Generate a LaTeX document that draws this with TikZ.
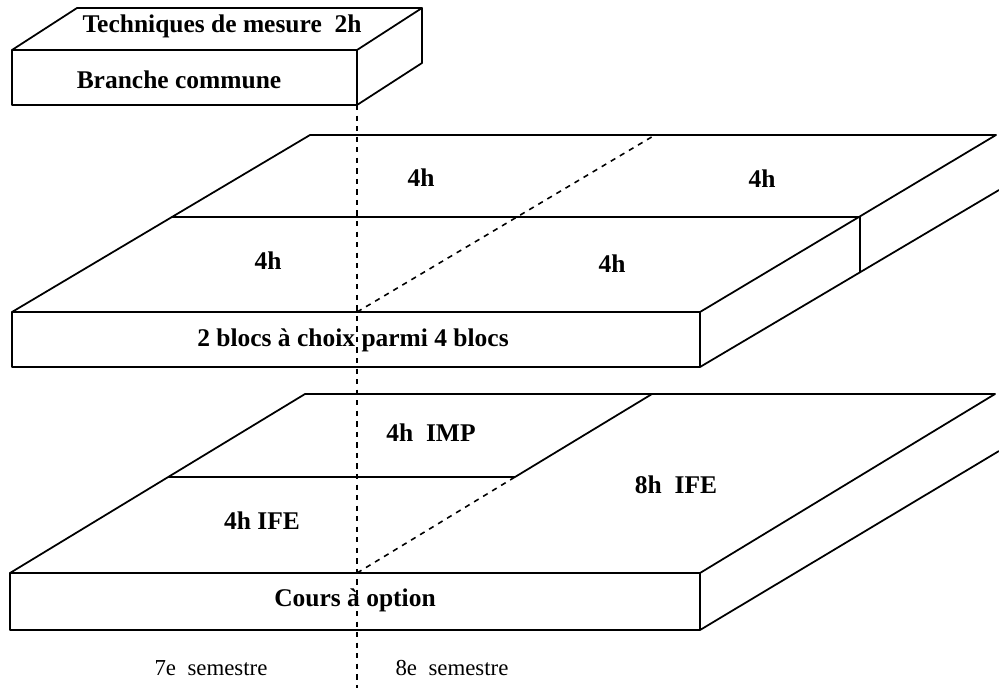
\documentclass[tikz,border=0pt]{standalone}
\usepackage{fontspec}
\setmainfont{Liberation Serif}
\usepackage{tikz}

\begin{document}
\begin{tikzpicture}[
            x=0.02cm, y=-0.02cm,
            edge/.style={line width=1pt, line join=round},
            hidden/.style={dashed, line width=0.9pt},
            label/.style={font=\fontsize{14.5}{17}\selectfont\bfseries, inner sep=0pt},
            sem/.style={font=\fontsize{13}{15}\selectfont, inner sep=0pt}
        ]
            \useasboundingbox (0,0) rectangle (999,693);

            % Top box
            \draw[edge] (12,50) rectangle (357,105);
            \draw[edge] (12,50) -- (77,8) -- (422,8) -- (357,50);
            \draw[edge] (422,8) -- (422,63) -- (357,105);
            \node[label] (tech) at (222,26) {Techniques de mesure\ \ 2h};
            \node[label] (branche) at (179,80) {Branche commune};

            % Middle slab
            \draw[edge] (12,312) rectangle (700,367);
            \draw[edge] (12,312) -- (310,135) -- (996,135) -- (700,312);
            \draw[edge] (700,367) -- (999,190);
            \draw[edge] (172,217) -- (860,217) -- (860,272);
            \draw[hidden] (357,312) -- (655,135);
            \node[label] (b1) at (421,178) {4h};
            \node[label] (b2) at (762,179) {4h};
            \node[label] (b3) at (268,261) {4h};
            \node[label] (b4) at (612,264) {4h};
            \node[label] (blocs) at (353,340) {2 blocs à choix parmi 4 blocs};

            % Bottom slab
            \draw[edge] (10,573) rectangle (700,630);
            \draw[edge] (10,573) -- (305,394) -- (995,394) -- (700,573);
            \draw[edge] (700,630) -- (999,451);
            \draw[edge] (168,477) -- (515,477) -- (652,394);
            \draw[hidden] (357,573) -- (515,477);
            \node[label] (imp) at (431,433) {4h\ \ IMP};
            \node[label] (ife1) at (262,521) {4h IFE};
            \node[label] (ife2) at (676,485) {8h\ \ IFE};
            \node[label] (cours) at (355,600) {Cours à option};

            % Semester split
            \draw[hidden] (357,105) -- (357,688);
            \node[sem] (s7) at (211,668) {7e\ \ semestre};
            \node[sem] (s8) at (452,668) {8e\ \ semestre};
        \end{tikzpicture}
\end{document}
